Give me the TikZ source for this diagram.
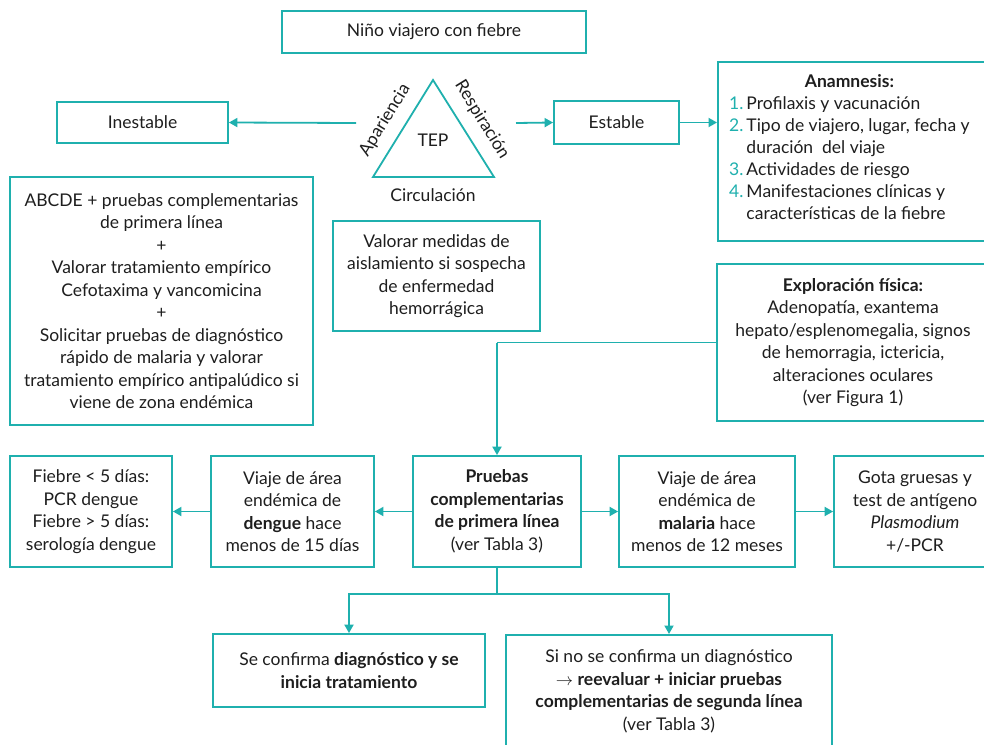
\documentclass[tikz,border=0pt]{standalone}
\usepackage{fontspec}
\setmainfont{Lato}
\usetikzlibrary{arrows.meta}
\definecolor{teal1}{HTML}{1FB0AE}
\definecolor{ink}{HTML}{1E1E1E}
\newcommand{\numc}[1]{\textcolor{teal1}{#1}}
\begin{document}
\begin{tikzpicture}[x=1pt,y=-1pt,
  box/.style={draw=teal1, line width=1.8pt, align=center, inner sep=0pt, text=ink},
  conn/.style={draw=teal1, line width=1.8pt},
  arr/.style={conn, -{Triangle[length=8.5pt,width=9pt]}},
  txt/.style={align=center, inner sep=0pt, text=ink},
  every node/.style={font=\fontsize{17.5}{22.5}\selectfont}
]
\clip (0,0) rectangle (984,744);
\fill[white] (0,0) rectangle (984,744);

% top
\node[box, minimum width=304pt, minimum height=42pt] (nino) at (434,32) {Niño viajero con fiebre};

% triangle
\draw[conn, line join=miter] (433,80) -- (494,177) -- (373,177) -- cycle;
\node[txt] (tep) at (433,140) {TEP};
\node[txt, rotate=58.3] (apar) at (385,120) {Apariencia};
\node[txt, rotate=-58.3] (resp) at (482,120) {Respiración};
\node[txt] (circ) at (433,195) {Circulación};
\coordinate (tl) at (356,123);
\coordinate (tr) at (516,123);

% inestable / estable
\node[box, minimum width=171pt, minimum height=41pt] (inest) at (142.5,122.5) {Inestable};
\node[box, minimum width=125pt, minimum height=43pt] (estable) at (616.5,122.5) {Estable};
\draw[arr] (tl) -- (inest.east);
\draw[arr] (tr) -- (estable.west);

% anamnesis
\node[box, anchor=north west, minimum width=285pt, minimum height=179pt] (anam) at (717,61) {};
\node[txt, anchor=north west, font=\fontsize{17.5}{22}\selectfont] (anamt) at (729,72) {%
\begin{tabular}{@{}l@{\hspace{3pt}}l@{}}
\multicolumn{2}{c}{\bfseries Anamnesis:}\\
\numc{1.} & Profilaxis y vacunación\\
\numc{2.} & Tipo de viajero, lugar, fecha y\\
 & duración\ \ del viaje\\
\numc{3.} & Actividades de riesgo\\
\numc{4.} & Manifestaciones clínicas y\\
 & características de la fiebre
\end{tabular}};
\draw[arr] (estable.east) -- (estable.east -| anam.west);

% left big box
\node[box, minimum width=303pt, minimum height=248pt] (abcde) at (161.5,301) {ABCDE + pruebas complementarias\\de primera línea\\+\\Valorar tratamiento empírico\\Cefotaxima y vancomicina\\+\\Solicitar pruebas de diagnóstico\\rápido de malaria y valorar\\tratamiento empírico antipalúdico si\\viene de zona endémica};

% aislamiento
\node[box, minimum width=207pt, minimum height=110pt] (aisl) at (436.5,276) {Valorar medidas de\\aislamiento si sospecha\\de enfermedad\\hemorrágica};

% exploracion
\node[box, minimum width=272pt, minimum height=157pt] (explo) at (853,342.5) {\textbf{Exploración física:}\\Adenopatía, exantema\\hepato/esplenomegalia, signos\\de hemorragia, ictericia,\\alteraciones oculares\\(ver Figura 1)};

% middle row
\node[box, minimum width=168pt, minimum height=111pt] (pruebas) at (497,511.5) {\textbf{Pruebas}\\\textbf{complementarias}\\\textbf{de primera línea}\\(ver Tabla 3)};
\node[box, minimum width=163pt, minimum height=111pt] (dengue) at (292.5,511.5) {Viaje de área\\endémica de\\\textbf{dengue} hace\\menos de 15 días};
\node[box, minimum width=162pt, minimum height=111pt] (fiebre) at (91,511.5) {Fiebre < 5 días:\\PCR dengue\\Fiebre > 5 días:\\serología dengue};
\node[box, minimum width=176pt, minimum height=111pt] (malaria) at (707,511.5) {Viaje de área\\endémica de\\\textbf{malaria} hace\\menos de 12 meses};
\node[box, minimum width=162pt, minimum height=111pt] (gota) at (915,511.5) {Gota gruesas y\\test de antígeno\\\textit{Plasmodium}\\+/-PCR};

\draw[conn] (explo.west) -- (explo.west -| pruebas.north);
\draw[arr] (explo.west -| pruebas.north) -- (pruebas.north);
\draw[arr] (pruebas.west) -- (dengue.east);
\draw[arr] (dengue.west) -- (fiebre.east);
\draw[arr] (pruebas.east) -- (malaria.west);
\draw[arr] (malaria.east) -- (gota.west);

% bottom
\node[box, minimum width=272pt, minimum height=73pt] (conf) at (349,670.5) {Se confirma \textbf{diagnóstico y se}\\\textbf{inicia tratamiento}};
\node[box, anchor=north, minimum width=326pt, minimum height=130pt] (noconf) at (669,634) {};
\node[txt] (noconft) at (669,691.5) {Si no se confirma un diagnóstico\\$\rightarrow$ \textbf{reevaluar + iniciar pruebas}\\\textbf{complementarias de segunda línea}\\(ver Tabla 3)};
\coordinate (split) at (497,594);
\draw[conn] (pruebas.south) -- (split);
\draw[arr] (split) -| (conf.north);
\draw[arr] (split) -| (noconf.north);
\end{tikzpicture}
\end{document}
